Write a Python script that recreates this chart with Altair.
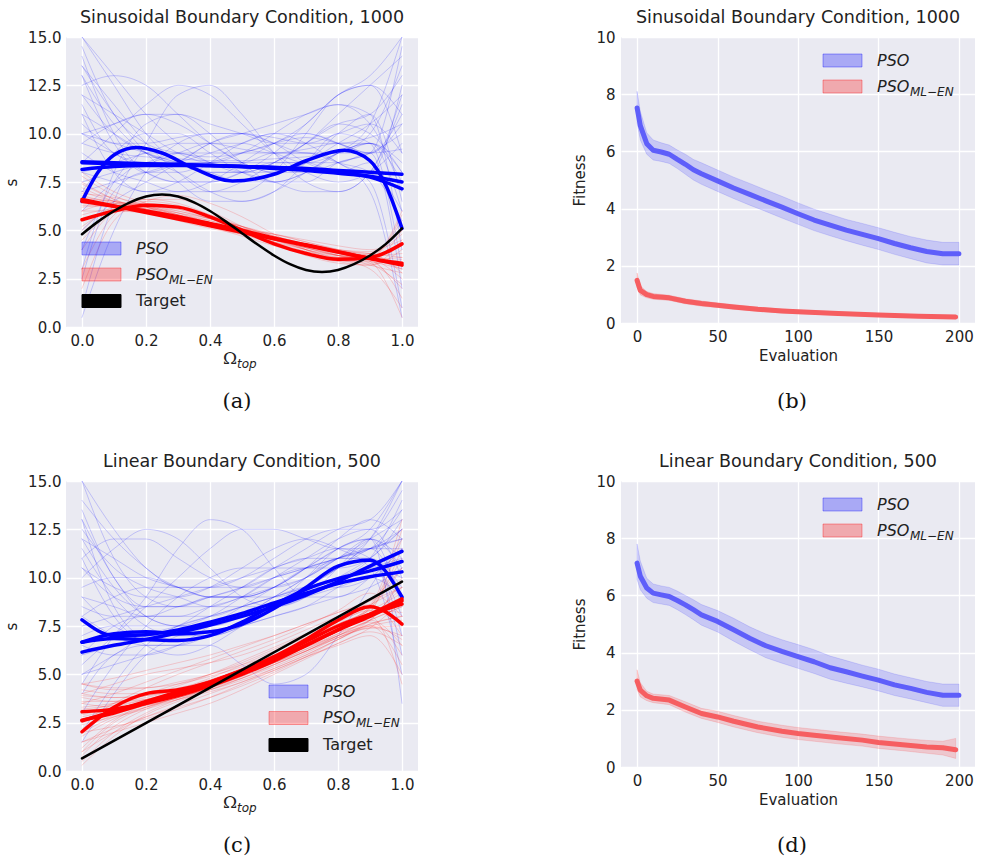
import altair as alt
import pandas as pd

FONT = "DejaVu Sans"
SERIF = "DejaVu Serif"
BG = "#EAEAF2"
TXT = "#222222"

# ---------------- data: profile panels ----------------
X11 = [0.0, 0.1, 0.2, 0.3, 0.4, 0.5, 0.6, 0.7, 0.8, 0.9, 1.0]
X21 = [0.0, 0.05, 0.1, 0.15, 0.2, 0.25, 0.3, 0.35, 0.4, 0.45, 0.5,
       0.55, 0.6, 0.65, 0.7, 0.75, 0.8, 0.85, 0.9, 0.95, 1.0]

A_BLUE_FAINT = [
    [14.5, 11.0, 9.5, 9.0, 8.8, 9.0, 9.5, 9.8, 9.5, 9.0, 11.0],
    [13.0, 9.5, 8.0, 8.5, 9.5, 10.0, 9.5, 8.5, 8.0, 8.5, 5.0],
    [3.0, 8.0, 10.5, 11.0, 10.0, 8.5, 7.5, 7.5, 8.5, 9.0, 14.5],
    [12.0, 10.0, 9.0, 8.5, 8.0, 7.5, 7.5, 8.0, 9.0, 9.5, 6.0],
    [9.5, 9.0, 8.8, 8.7, 8.6, 8.6, 8.7, 8.8, 9.0, 9.0, 9.2],
    [6.0, 7.5, 8.5, 8.0, 7.0, 6.5, 7.0, 8.5, 10.0, 9.5, 3.0],
    [15.0, 12.5, 10.0, 8.5, 8.0, 8.0, 8.5, 9.5, 10.5, 10.0, 8.0],
    [10.5, 9.5, 9.5, 9.8, 10.0, 10.0, 9.8, 9.5, 9.5, 9.8, 10.5],
    [1.0, 6.5, 9.5, 12.0, 12.5, 11.0, 9.0, 7.5, 7.0, 8.0, 12.0],
    [13.5, 11.5, 9.5, 8.0, 7.0, 7.0, 8.0, 10.0, 12.0, 12.5, 9.0],
    [8.0, 8.5, 9.0, 9.5, 9.5, 9.2, 9.0, 9.2, 9.5, 9.5, 7.5],
    [11.0, 8.0, 7.0, 7.5, 8.5, 9.5, 10.0, 9.5, 8.5, 7.5, 1.0],
    [7.0, 9.0, 10.0, 10.0, 9.0, 8.0, 7.5, 8.0, 9.0, 10.5, 15.0],
    [12.5, 13.0, 12.5, 11.0, 9.5, 8.5, 8.0, 8.0, 8.5, 9.0, 10.0],
    [9.0, 8.0, 7.5, 7.0, 7.0, 7.5, 8.5, 9.5, 10.5, 11.0, 13.0],
    [10.0, 10.5, 11.0, 10.5, 9.5, 8.5, 8.0, 8.5, 10.0, 11.0, 6.5],
    [5.0, 6.5, 7.5, 8.5, 9.5, 10.0, 10.5, 11.0, 11.5, 11.0, 4.0],
    [14.0, 10.0, 8.0, 7.5, 7.5, 8.0, 8.5, 8.5, 8.0, 8.0, 12.5],
    [8.5, 10.0, 11.5, 12.5, 12.0, 10.5, 9.0, 8.0, 7.5, 8.0, 9.5],
    [11.5, 9.0, 8.5, 9.0, 9.5, 9.5, 9.0, 8.5, 8.5, 9.0, 2.0],
    [2.5, 7.0, 8.0, 8.0, 8.5, 9.0, 9.5, 10.5, 12.0, 12.5, 11.0],
    [10.0, 9.5, 9.0, 8.5, 8.0, 8.0, 8.5, 9.5, 11.0, 12.5, 14.0],
    [13.0, 10.5, 9.0, 8.5, 8.5, 9.0, 10.0, 11.0, 11.5, 10.5, 7.0],
    [7.5, 8.0, 8.5, 9.0, 9.0, 9.0, 9.0, 9.0, 8.5, 8.0, 5.5],
    [15.0, 13.0, 11.0, 9.5, 8.5, 8.0, 8.0, 8.5, 9.5, 10.5, 12.0],
    [0.5, 5.0, 8.0, 9.5, 10.0, 10.0, 9.5, 9.0, 9.0, 9.5, 8.0],
    [10.0, 9.0, 8.0, 7.5, 7.5, 8.0, 9.0, 10.5, 12.0, 13.0, 15.0],
    [12.0, 11.0, 10.0, 9.0, 8.5, 8.5, 9.0, 9.0, 8.5, 7.0, 0.5],
    [8.0, 7.5, 7.0, 7.0, 7.5, 8.5, 9.5, 10.0, 9.5, 8.5, 6.0],
    [9.5, 10.5, 11.0, 11.0, 10.5, 10.0, 9.5, 9.5, 10.0, 10.5, 9.0],
    [4.0, 7.5, 9.0, 9.0, 8.5, 8.0, 7.5, 7.0, 7.0, 8.0, 11.5],
    [13.5, 11.0, 9.0, 7.5, 6.5, 6.5, 7.0, 8.0, 9.0, 9.5, 8.5],
    [7.0, 7.5, 8.0, 8.5, 9.0, 9.5, 10.0, 10.0, 9.5, 9.0, 10.5],
    [11.0, 10.0, 9.0, 8.5, 8.5, 8.5, 8.5, 8.5, 9.0, 10.0, 13.5],
]
A_RED_FAINT = [
    [6.8, 6.4, 6.1, 5.8, 5.4, 5.0, 4.6, 4.2, 3.8, 3.5, 3.2],
    [5.0, 6.2, 6.4, 6.2, 5.7, 5.0, 4.3, 3.7, 3.3, 3.2, 4.0],
    [7.5, 6.6, 6.0, 5.6, 5.3, 5.0, 4.8, 4.4, 4.0, 3.5, 2.0],
    [3.0, 5.8, 6.6, 6.6, 6.0, 5.2, 4.4, 3.8, 3.4, 3.4, 5.0],
    [6.5, 6.3, 6.0, 5.6, 5.2, 4.9, 4.6, 4.3, 4.0, 3.8, 3.6],
    [6.0, 6.0, 5.9, 5.7, 5.4, 5.1, 4.8, 4.5, 4.2, 4.0, 4.5],
    [8.0, 7.0, 6.4, 5.9, 5.4, 5.0, 4.5, 4.0, 3.5, 3.0, 1.0],
    [4.5, 6.0, 6.5, 6.3, 5.8, 5.2, 4.6, 4.0, 3.6, 3.5, 3.0],
    [6.6, 6.5, 6.2, 5.8, 5.3, 4.8, 4.3, 3.9, 3.6, 3.6, 6.0],
    [5.5, 6.0, 6.0, 5.8, 5.5, 5.1, 4.7, 4.3, 3.9, 3.6, 2.5],
    [7.0, 6.5, 6.2, 6.0, 5.6, 5.2, 4.7, 4.2, 3.7, 3.2, 2.8],
    [2.0, 5.5, 6.5, 6.8, 6.4, 5.7, 4.8, 4.0, 3.4, 3.2, 4.5],
    [6.2, 6.3, 6.2, 5.9, 5.5, 5.0, 4.5, 4.1, 3.8, 3.7, 3.8],
    [6.9, 6.7, 6.3, 5.8, 5.2, 4.7, 4.2, 3.8, 3.6, 3.7, 5.5],
    [5.8, 6.1, 6.1, 5.9, 5.6, 5.2, 4.8, 4.4, 4.0, 3.7, 3.3],
    [7.2, 6.5, 6.0, 5.5, 5.1, 4.8, 4.5, 4.2, 3.9, 3.4, 0.5],
    [4.0, 6.0, 6.6, 6.4, 5.8, 5.1, 4.5, 4.0, 3.7, 3.8, 4.8],
    [6.4, 6.2, 6.0, 5.7, 5.3, 4.9, 4.5, 4.1, 3.7, 3.4, 3.0],
    [6.7, 6.5, 6.2, 5.8, 5.4, 5.0, 4.6, 4.2, 3.8, 3.3, 2.2],
    [5.2, 6.1, 6.3, 6.0, 5.6, 5.1, 4.6, 4.1, 3.7, 3.6, 5.8],
    [7.8, 6.8, 6.2, 5.7, 5.3, 4.9, 4.5, 4.1, 3.7, 3.5, 3.6],
    [6.0, 6.4, 6.4, 6.1, 5.6, 5.0, 4.4, 3.9, 3.5, 3.3, 3.5],
    [6.5, 6.4, 6.1, 5.7, 5.3, 4.9, 4.5, 4.2, 3.9, 3.7, 4.2],
    [4.8, 5.9, 6.2, 6.1, 5.7, 5.2, 4.7, 4.3, 3.9, 3.8, 2.8],
    [7.4, 6.6, 6.1, 5.6, 5.2, 4.8, 4.4, 4.0, 3.7, 3.5, 1.5],
    [6.3, 6.2, 6.0, 5.7, 5.4, 5.0, 4.6, 4.3, 4.0, 3.9, 5.0],
]
A_BLUE_WAVY_X = [0.0, 0.05, 0.1, 0.17, 0.25, 0.35, 0.47, 0.6, 0.7, 0.82, 0.9, 0.95, 1.0]
A_BLUE_WAVY_Y = [6.5, 8.0, 8.9, 9.28, 9.0, 8.2, 7.55, 7.9, 8.6, 9.14, 8.6, 7.3, 5.1]
A_BLUE_THICK = [
    [8.55, 8.5, 8.45, 8.4, 8.35, 8.3, 8.25, 8.15, 8.0, 7.75, 7.15],
    [8.15, 8.3, 8.35, 8.35, 8.35, 8.3, 8.25, 8.2, 8.1, 8.0, 7.9],
    [8.5, 8.45, 8.4, 8.4, 8.35, 8.3, 8.2, 8.1, 7.95, 7.8, 7.5],
]
A_RED_THICK = [
    [6.6, 6.26, 5.92, 5.58, 5.24, 4.9, 4.56, 4.22, 3.88, 3.54, 3.2],
    [6.5, 6.25, 6.0, 5.7, 5.35, 5.0, 4.6, 4.25, 3.9, 3.55, 3.3],
    [5.55, 6.0, 6.3, 6.2, 5.7, 5.0, 4.3, 3.8, 3.5, 3.6, 4.3],
]
A_TARGET = [4.8, 5.45, 6.0, 6.45, 6.75, 6.85, 6.75, 6.45, 6.0, 5.45, 4.85,
            4.25, 3.7, 3.25, 2.95, 2.85, 2.95, 3.25, 3.7, 4.3, 5.1]

C_BLUE_FAINT = [
    [15.0, 11.0, 9.0, 8.5, 8.5, 9.0, 9.5, 10.0, 11.0, 12.0, 13.0],
    [12.0, 9.5, 8.0, 7.5, 7.5, 8.0, 9.0, 10.0, 11.0, 11.5, 12.5],
    [5.0, 6.0, 7.0, 7.5, 8.0, 8.5, 9.0, 9.5, 10.0, 10.5, 11.0],
    [9.0, 8.5, 8.0, 8.0, 8.5, 9.0, 10.0, 11.0, 12.0, 12.5, 10.0],
    [3.0, 5.5, 7.5, 9.0, 10.0, 10.5, 10.5, 10.5, 11.0, 12.0, 14.5],
    [13.5, 10.0, 8.5, 8.5, 9.0, 9.0, 9.0, 9.5, 10.5, 11.5, 9.0],
    [7.0, 7.5, 7.5, 7.5, 7.5, 8.0, 8.5, 9.5, 10.5, 11.5, 12.0],
    [10.5, 9.0, 8.5, 8.5, 9.0, 9.5, 10.5, 11.5, 12.5, 13.0, 15.0],
    [4.5, 7.0, 9.0, 11.5, 13.0, 12.5, 10.5, 9.0, 9.0, 10.0, 11.5],
    [11.0, 8.0, 6.5, 6.0, 6.5, 7.5, 8.5, 9.5, 10.5, 11.0, 6.0],
    [8.0, 9.0, 9.5, 9.5, 9.5, 9.5, 10.0, 10.5, 11.0, 11.5, 12.0],
    [6.0, 6.5, 7.0, 7.0, 7.0, 7.5, 8.5, 10.0, 11.5, 12.0, 8.5],
    [14.0, 12.0, 10.5, 9.5, 9.5, 10.0, 11.0, 12.0, 12.5, 12.5, 13.5],
    [2.0, 4.5, 6.5, 7.5, 8.0, 8.5, 9.0, 9.5, 9.5, 10.0, 11.5],
    [9.5, 10.0, 10.0, 9.5, 9.0, 9.0, 9.5, 10.5, 11.5, 12.0, 3.5],
    [12.5, 10.5, 9.5, 9.0, 8.5, 8.5, 8.5, 9.0, 10.0, 11.0, 12.5],
    [6.5, 6.0, 6.0, 6.5, 7.5, 8.5, 9.5, 10.5, 11.0, 11.5, 13.5],
    [10.0, 11.5, 12.5, 12.0, 10.5, 9.0, 8.5, 9.0, 10.5, 12.0, 10.5],
    [7.5, 8.0, 8.5, 9.0, 9.5, 10.0, 10.5, 11.0, 11.0, 11.0, 7.0],
    [11.5, 9.0, 7.5, 7.0, 7.0, 7.5, 8.5, 9.5, 10.5, 12.0, 15.0],
    [4.0, 6.0, 6.5, 6.5, 6.5, 5.5, 4.5, 5.0, 7.0, 9.5, 12.0],
    [8.5, 8.0, 8.0, 8.5, 9.0, 9.5, 10.0, 10.5, 11.0, 11.5, 11.5],
    [13.0, 8.5, 7.0, 7.0, 7.5, 8.0, 9.0, 10.0, 11.0, 11.0, 9.5],
    [5.5, 7.0, 8.5, 10.0, 11.5, 12.5, 12.5, 12.0, 11.5, 11.5, 12.5],
    [15.0, 12.5, 10.5, 9.5, 9.0, 9.0, 9.5, 10.5, 11.5, 12.5, 15.0],
    [1.5, 4.0, 6.0, 7.0, 7.5, 8.0, 8.5, 9.0, 9.5, 10.0, 9.0],
    [9.0, 7.5, 7.0, 7.5, 8.5, 9.5, 10.5, 11.0, 11.5, 11.0, 8.0],
    [12.0, 11.0, 10.0, 9.5, 9.0, 9.0, 9.5, 10.5, 12.0, 13.0, 12.0],
    [6.0, 7.5, 8.0, 8.0, 8.0, 8.5, 9.0, 9.5, 10.0, 11.0, 14.0],
    [10.5, 9.5, 9.0, 9.0, 9.5, 10.5, 11.5, 12.0, 11.5, 10.5, 5.0],
    [8.0, 7.0, 6.5, 6.5, 7.0, 7.5, 8.0, 8.5, 9.5, 10.5, 10.0],
    [13.0, 10.0, 8.0, 7.5, 8.0, 9.0, 10.0, 10.5, 10.5, 11.0, 13.0],
    [5.0, 5.5, 6.0, 6.5, 7.0, 7.5, 8.0, 8.5, 9.0, 9.5, 10.5],
    [11.0, 12.0, 12.0, 11.0, 10.0, 9.5, 9.5, 10.0, 11.0, 12.0, 11.0],
]
C_RED_FAINT = [
    [2.5, 3.0, 3.5, 4.0, 4.5, 5.0, 5.6, 6.3, 7.0, 7.8, 8.5],
    [1.0, 2.5, 3.3, 3.8, 4.3, 4.9, 5.6, 6.4, 7.3, 8.0, 9.5],
    [4.0, 3.8, 3.9, 4.2, 4.6, 5.2, 5.9, 6.6, 7.3, 7.8, 6.5],
    [3.5, 3.3, 3.4, 3.8, 4.3, 5.0, 5.8, 6.6, 7.5, 8.5, 11.0],
    [0.5, 2.0, 3.0, 3.7, 4.3, 5.0, 5.7, 6.4, 7.0, 7.6, 8.0],
    [4.5, 4.2, 4.3, 4.5, 4.9, 5.4, 6.0, 6.7, 7.5, 8.2, 9.0],
    [2.0, 2.8, 3.3, 3.7, 4.1, 4.6, 5.3, 6.0, 6.8, 7.5, 5.5],
    [3.0, 3.5, 4.0, 4.5, 5.0, 5.5, 6.0, 6.6, 7.3, 8.2, 12.5],
    [1.5, 2.2, 2.8, 3.3, 3.8, 4.4, 5.1, 5.9, 6.8, 7.6, 8.0],
    [3.8, 3.6, 3.7, 4.0, 4.5, 5.1, 5.8, 6.5, 7.2, 7.8, 10.0],
    [2.8, 3.2, 3.6, 4.2, 4.8, 5.5, 6.2, 6.9, 7.6, 8.3, 9.2],
    [0.8, 2.3, 3.2, 3.8, 4.2, 4.7, 5.3, 6.0, 6.8, 7.4, 7.0],
    [4.2, 4.0, 4.0, 4.3, 4.7, 5.3, 6.1, 7.0, 7.9, 8.6, 9.5],
    [2.2, 2.9, 3.4, 3.8, 4.3, 4.9, 5.5, 6.2, 7.0, 7.7, 6.0],
    [3.2, 3.4, 3.7, 4.1, 4.6, 5.2, 5.8, 6.6, 7.4, 8.4, 10.5],
    [1.2, 2.6, 3.5, 4.1, 4.6, 5.1, 5.6, 6.2, 6.9, 7.4, 7.5],
    [3.6, 3.6, 3.9, 4.4, 5.0, 5.7, 6.4, 7.1, 7.8, 8.6, 13.0],
    [2.6, 3.0, 3.4, 3.9, 4.4, 5.0, 5.7, 6.4, 7.1, 7.8, 8.5],
    [3.3, 3.5, 3.8, 4.2, 4.7, 5.3, 6.0, 6.8, 7.6, 8.5, 12.0],
    [1.8, 2.7, 3.3, 3.8, 4.3, 4.8, 5.4, 6.1, 6.9, 7.5, 6.8],
    [4.5, 4.3, 4.3, 4.6, 5.0, 5.6, 6.3, 7.0, 7.7, 8.3, 8.2],
    [0.3, 1.8, 2.9, 3.6, 4.2, 4.8, 5.5, 6.2, 7.0, 7.8, 9.8],
    [2.9, 3.3, 3.7, 4.1, 4.5, 5.0, 5.6, 6.3, 7.1, 8.0, 4.5],
    [3.9, 3.8, 3.9, 4.2, 4.7, 5.3, 6.0, 6.8, 7.6, 8.4, 11.5],
    [2.4, 2.8, 3.2, 3.7, 4.2, 4.8, 5.5, 6.2, 6.9, 7.5, 7.8],
    [1.0, 2.0, 2.8, 3.4, 4.0, 4.6, 5.2, 5.9, 6.6, 7.4, 8.8],
    [4.5, 4.8, 5.2, 5.6, 6.0, 6.5, 7.0, 7.6, 8.2, 8.8, 9.5],
    [3.5, 4.0, 4.6, 5.2, 5.8, 6.4, 7.0, 7.6, 8.2, 8.8, 10.5],
    [2.5, 3.5, 4.3, 5.0, 5.6, 6.2, 6.8, 7.5, 8.3, 9.2, 8.0],
    [4.0, 4.5, 5.0, 5.3, 5.6, 6.0, 6.6, 7.3, 8.0, 8.6, 7.0],
    [1.5, 2.0, 2.5, 3.0, 3.5, 4.2, 5.0, 5.8, 6.6, 7.2, 6.5],
    [2.0, 2.3, 2.7, 3.2, 3.8, 4.5, 5.2, 5.9, 6.5, 7.0, 5.0],
]
C_BLUE_THICK = [
    [7.82, 7.0, 7.05, 7.3, 7.7, 8.15, 8.7, 9.2, 9.7, 10.05, 10.3],
    [6.66, 7.1, 7.2, 7.1, 7.2, 7.6, 8.4, 9.5, 10.6, 10.9, 9.0],
    [6.15, 6.5, 6.8, 7.15, 7.55, 8.0, 8.5, 9.1, 9.8, 10.6, 11.36],
    [6.66, 6.85, 6.8, 6.75, 7.0, 7.7, 8.6, 9.4, 9.95, 10.35, 10.84],
]
C_RED_THICK = [
    [3.06, 3.2, 3.5, 3.9, 4.4, 5.0, 5.7, 6.5, 7.3, 8.1, 8.9],
    [2.03, 3.3, 4.0, 4.2, 4.6, 5.2, 5.9, 6.7, 7.5, 8.1, 8.64],
    [2.63, 3.0, 3.5, 4.0, 4.5, 5.1, 5.9, 6.8, 7.8, 8.5, 7.6],
    [2.6, 3.1, 3.6, 4.1, 4.6, 5.2, 5.8, 6.5, 7.3, 8.0, 8.8],
]
C_TARGET_X = [0.0, 1.0]
C_TARGET = [0.65, 9.8]

# ---------------- data: fitness panels ----------------
BX = [0, 2, 6, 10, 15, 20, 25, 30, 35, 40, 50, 60, 70, 80, 90, 100,
      110, 120, 130, 140, 150, 160, 170, 180, 190, 200]
B_BLUE_MEAN = [7.52, 6.9, 6.27, 6.04, 5.98, 5.9, 5.72, 5.55, 5.36, 5.22, 4.97, 4.72, 4.5,
               4.27, 4.05, 3.82, 3.6, 3.42, 3.25, 3.1, 2.95, 2.78, 2.63, 2.5, 2.42, 2.42]
B_BLUE_HI = [8.1, 7.4, 6.65, 6.4, 6.3, 6.22, 6.05, 5.9, 5.72, 5.6, 5.35, 5.1, 4.88,
             4.65, 4.43, 4.2, 3.98, 3.8, 3.62, 3.48, 3.33, 3.17, 3.02, 2.9, 2.82, 2.82]
B_BLUE_LO = [7.0, 6.4, 5.9, 5.7, 5.65, 5.58, 5.4, 5.2, 5.0, 4.85, 4.6, 4.35, 4.12,
             3.9, 3.67, 3.45, 3.23, 3.05, 2.88, 2.72, 2.57, 2.4, 2.25, 2.1, 2.03, 2.03]
B_RED_X = [0, 2, 6, 10, 20, 30, 40, 50, 60, 75, 90, 100, 125, 150, 175, 198]
B_RED_MEAN = [1.49, 1.14, 0.99, 0.93, 0.88, 0.76, 0.68, 0.62, 0.56, 0.48, 0.42, 0.39,
              0.33, 0.28, 0.24, 0.21]
B_RED_HI = [1.75, 1.3, 1.1, 1.03, 0.97, 0.85, 0.77, 0.7, 0.64, 0.55, 0.49, 0.45,
            0.39, 0.33, 0.29, 0.27]
B_RED_LO = [1.25, 0.98, 0.88, 0.83, 0.79, 0.67, 0.59, 0.54, 0.48, 0.41, 0.35, 0.33,
            0.27, 0.23, 0.19, 0.15]

D_BLUE_MEAN = [7.13, 6.67, 6.26, 6.08, 6.02, 5.96, 5.82, 5.67, 5.5, 5.32, 5.09, 4.8, 4.5,
               4.24, 4.04, 3.86, 3.68, 3.47, 3.33, 3.18, 3.04, 2.87, 2.75, 2.61, 2.51, 2.51]
D_BLUE_HI = [7.8, 7.2, 6.6, 6.4, 6.33, 6.28, 6.15, 6.0, 5.85, 5.68, 5.47, 5.2, 4.9,
             4.65, 4.45, 4.28, 4.1, 3.88, 3.72, 3.56, 3.42, 3.25, 3.12, 2.99, 2.9, 2.9]
D_BLUE_LO = [6.55, 6.2, 5.9, 5.75, 5.7, 5.65, 5.5, 5.33, 5.15, 4.96, 4.72, 4.4, 4.1,
             3.82, 3.63, 3.45, 3.27, 3.07, 2.93, 2.8, 2.66, 2.5, 2.38, 2.25, 2.12, 2.12]
D_RED_X = [0, 2, 6, 10, 20, 30, 40, 50, 60, 75, 90, 100, 110, 125, 140, 150, 165, 180, 190, 198]
D_RED_MEAN = [3.0, 2.69, 2.49, 2.4, 2.34, 2.1, 1.87, 1.75, 1.6, 1.4, 1.25, 1.17, 1.11,
              1.02, 0.94, 0.86, 0.78, 0.7, 0.67, 0.6]
D_RED_HI = [3.4, 2.95, 2.65, 2.55, 2.5, 2.28, 2.05, 1.95, 1.8, 1.6, 1.46, 1.38, 1.32,
            1.23, 1.15, 1.08, 1.0, 0.93, 0.9, 1.0]
D_RED_LO = [2.7, 2.45, 2.32, 2.25, 2.18, 1.92, 1.7, 1.56, 1.4, 1.2, 1.04, 0.96, 0.9,
            0.81, 0.73, 0.65, 0.57, 0.48, 0.42, 0.3]

TITLES = ["Sinusoidal Boundary Condition, 1000", "Sinusoidal Boundary Condition, 1000",
          "Linear Boundary Condition, 500", "Linear Boundary Condition, 500"]
SUBLABELS = ["(a)", "(b)", "(c)", "(d)"]
LEGEND_MAIN = ["PSO", "PSO", "Target"]
LEGEND_SUB = ["", "ML\u2212EN", ""]
XTITLE_MAIN = "\u03a9"
XTITLE_SUB = "top"

BLUE, RED = "#0000ff", "#ff0000"


def lines_df(ylists, xs):
    rows = []
    for i, ys in enumerate(ylists):
        xl = xs[i] if isinstance(xs[0], list) else xs
        for x, y in zip(xl, ys):
            rows.append({"x": x, "y": y, "id": i})
    return pd.DataFrame(rows)


def one():
    return alt.Data(values=[{"k": 0}])


def txt(text, x, y, size, font=FONT, style="normal", align="left", color=TXT):
    return alt.Chart(one()).mark_text(
        text=text, font=font, fontSize=size, fontStyle=style, align=align,
        baseline="middle", color=color
    ).encode(x=alt.value(x), y=alt.value(y))


def legend_layers(x0, rows_y, with_target):
    """Hand-made legend: swatches + labels (pixel placement inside panel)."""
    sw = [(BLUE, 0.28, 0.35), (RED, 0.28, 0.35), ("#000000", 1.0, 1.0)]
    layers = []
    n = 3 if with_target else 2
    for i in range(n):
        col, fop, sop = sw[i]
        yc = rows_y[i]
        layers.append(alt.Chart(one()).mark_rect(
            color=col, fillOpacity=fop, stroke=col, strokeOpacity=sop, strokeWidth=1
        ).encode(x=alt.value(x0), x2=alt.value(x0 + 39),
                 y=alt.value(yc - 6.5), y2=alt.value(yc + 6.5)))
        italic = "italic" if i < 2 else "normal"
        layers.append(txt(LEGEND_MAIN[i], x0 + 54, yc, 16, style=italic))
        if LEGEND_SUB[i]:
            layers.append(txt(LEGEND_SUB[i], x0 + 54 + 33, yc + 5, 12, style="italic"))
    return layers


def profile_panel(idx, bf, rf, bthick, rthick, target, legend_x, legend_y):
    W, H = 352, 290
    xs = alt.Scale(domain=[-0.05, 1.05], nice=False, zero=False)
    ys = alt.Scale(domain=[0, 15], nice=False, zero=False)
    xax = alt.Axis(values=[0, 0.2, 0.4, 0.6, 0.8, 1.0], format=".1f", title=None,
                   labelPadding=6)
    yax = alt.Axis(values=[0, 2.5, 5, 7.5, 10, 12.5, 15], format=".1f", title="s",
                   labelPadding=5, titlePadding=8)

    def lyr(df, color, op, sw):
        return alt.Chart(df).mark_line(
            clip=True, interpolate="monotone", color=color, strokeOpacity=op,
            strokeWidth=sw, strokeCap="round"
        ).encode(x=alt.X("x:Q", scale=xs, axis=xax),
                 y=alt.Y("y:Q", scale=ys, axis=yax), detail="id:N")

    layers = [
        lyr(lines_df(bf, X11), BLUE, 0.19, 1),
        lyr(lines_df(rf, X11), RED, 0.17, 1),
        lyr(lines_df([t[1] for t in bthick], [t[0] for t in bthick]), BLUE, 1, 3.5),
        lyr(lines_df([t[1] for t in rthick], [t[0] for t in rthick]), RED, 1, 3.5),
        lyr(lines_df([target[1]], [target[0]]), "#000000", 1, 2.5),
    ]
    layers += legend_layers(legend_x, legend_y, True)
    layers.append(txt(XTITLE_MAIN, 164, H + 32, 17, font=SERIF, align="center"))
    layers.append(txt(XTITLE_SUB, 171, H + 37, 12, style="italic"))
    layers.append(txt(SUBLABELS[idx], 171, 365, 21, font=SERIF, align="center",
                      color="#111111"))
    return alt.layer(*layers).properties(
        width=W, height=H,
        title=alt.TitleParams(TITLES[idx], font=FONT, fontSize=17.5, fontWeight="normal",
                              color=TXT, offset=4))


def fitness_panel(idx, bmean, blo, bhi, rx, rmean, rlo, rhi):
    W, H = 354, 286
    xs = alt.Scale(domain=[-10, 210], nice=False, zero=False)
    ys = alt.Scale(domain=[0, 10], nice=False, zero=False)
    xax = alt.Axis(values=[0, 50, 100, 150, 200], title="Evaluation", labelPadding=6,
                   titlePadding=4)
    yax = alt.Axis(values=[0, 2, 4, 6, 8, 10], title="Fitness", labelPadding=6,
                   titlePadding=8)
    bdf = pd.DataFrame({"x": BX, "m": bmean, "lo": blo, "hi": bhi})
    rdf = pd.DataFrame({"x": rx, "m": rmean, "lo": rlo, "hi": rhi})

    def band(df, col):
        return alt.Chart(df).mark_area(
            color=col, fillOpacity=0.15, stroke=col, strokeOpacity=0.12, strokeWidth=1
        ).encode(x=alt.X("x:Q", scale=xs, axis=xax),
                 y=alt.Y("lo:Q", scale=ys, axis=yax), y2="hi:Q")

    def mean(df, col):
        return alt.Chart(df).mark_line(color=col, strokeWidth=5, strokeCap="round",
                                       strokeJoin="round").encode(
            x=alt.X("x:Q", scale=xs, axis=xax), y=alt.Y("m:Q", scale=ys, axis=yax))

    layers = [band(bdf, BLUE), mean(bdf, "#5e5efa"), band(rdf, RED), mean(rdf, "#f65e61")]
    layers += legend_layers(202, [23.5, 49.5], False)
    layers.append(txt(SUBLABELS[idx], 171, 365, 21, font=SERIF, align="center",
                      color="#111111"))
    return alt.layer(*layers).properties(
        width=W, height=H,
        title=alt.TitleParams(TITLES[idx], font=FONT, fontSize=17.5, fontWeight="normal",
                              color=TXT, offset=4))


pa = profile_panel(0, A_BLUE_FAINT, A_RED_FAINT,
                   [(X11, y) for y in A_BLUE_THICK] + [(A_BLUE_WAVY_X, A_BLUE_WAVY_Y)],
                   [(X11, y) for y in A_RED_THICK], (X21, A_TARGET),
                   16, [211.5, 237.5, 264])
pb = fitness_panel(1, B_BLUE_MEAN, B_BLUE_LO, B_BLUE_HI, B_RED_X, B_RED_MEAN, B_RED_LO, B_RED_HI)
pc = profile_panel(2, C_BLUE_FAINT, C_RED_FAINT,
                   [(X11, y) for y in C_BLUE_THICK],
                   [(X11, y) for y in C_RED_THICK], (C_TARGET_X, C_TARGET),
                   203, [210.5, 237, 264])
pd_ = fitness_panel(3, D_BLUE_MEAN, D_BLUE_LO, D_BLUE_HI, D_RED_X, D_RED_MEAN, D_RED_LO, D_RED_HI)

chart = alt.vconcat(
    alt.hconcat(pa, pb, spacing=154),
    alt.hconcat(pc, pd_, spacing=154),
    spacing=40,
).configure(
    font=FONT, padding={"left": 4, "top": 8, "right": 2, "bottom": 2}
).configure_view(
    fill=BG, strokeWidth=0
).configure_axis(
    domain=False, ticks=False, grid=True, gridColor="#ffffff", gridWidth=1.3,
    labelFont=FONT, labelFontSize=15, labelColor=TXT,
    titleFont=FONT, titleFontSize=15, titleFontWeight="normal", titleColor=TXT
)

chart.save("out.html", embed_options={"renderer": "svg", "actions": False})
